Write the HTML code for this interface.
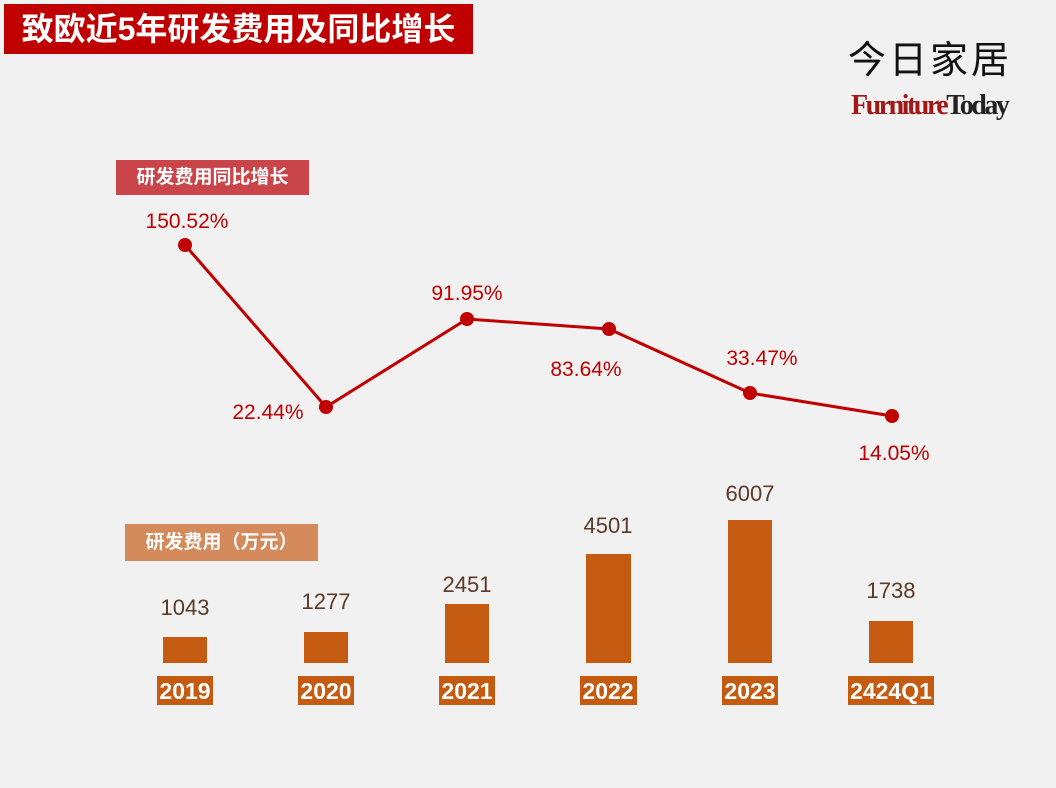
<!DOCTYPE html>
<html><head><meta charset="utf-8"><style>
body{margin:0;width:1056px;height:788px;background:#f1f1f1;overflow:hidden;font-family:"Liberation Sans","Noto Sans CJK SC",sans-serif;position:relative}
.a{position:absolute;white-space:nowrap}
</style></head><body>
<div class="a" style="left:4px;top:4px;width:469px;height:50px;background:#c00000;color:#fff;font-weight:bold;font-size:32px;line-height:50px;text-align:center">致欧近5年研发费用及同比增长</div>
<div class="a" style="left:848px;top:38px;font-size:38px;color:#111;letter-spacing:3px;line-height:46px">今日家居</div>
<div class="a" style="left:851px;top:88px;font-family:'Liberation Serif',serif;font-weight:bold;font-size:28px;letter-spacing:-2.5px;line-height:36px"><span style="color:#a01818">Furniture</span><span style="color:#222">Today</span></div>
<div class="a" style="left:116px;top:160px;width:193px;height:35px;background:#c9454a;color:#fff;font-weight:bold;font-size:19px;line-height:35px;text-align:center">研发费用同比增长</div>
<div class="a" style="left:125px;top:524px;width:193px;height:37px;background:#d48a5a;color:#fff;font-weight:bold;font-size:19px;line-height:37px;text-align:center">研发费用（万元）</div>
<svg class="a" style="left:0;top:0" width="1056" height="788">
<g fill="#c55a11">
<rect x="163" y="637" width="44" height="26"/><rect x="304" y="632" width="44" height="31"/><rect x="445" y="604" width="44" height="59"/><rect x="586" y="554" width="45" height="109"/><rect x="728" y="520" width="44" height="143"/><rect x="869" y="621" width="44" height="42"/>
<rect x="157" y="676" width="56" height="29"/><rect x="298" y="676" width="56" height="29"/><rect x="439" y="676" width="56" height="29"/><rect x="580" y="676" width="57" height="29"/><rect x="722" y="676" width="56" height="29"/><rect x="848" y="676" width="86" height="29"/>
</g>
<g fill="#fff" font-weight="bold" font-size="23" text-anchor="middle" font-family="Liberation Sans,sans-serif">
<text x="185" y="699">2019</text><text x="326" y="699">2020</text><text x="467" y="699">2021</text><text x="608" y="699">2022</text><text x="750" y="699">2023</text><text x="891" y="699">2424Q1</text>
</g>
<g fill="#5a3a28" font-size="22" text-anchor="middle" font-family="Liberation Sans,sans-serif">
<text x="185" y="615">1043</text><text x="326" y="609">1277</text><text x="467" y="592">2451</text><text x="608" y="533">4501</text><text x="750" y="501">6007</text><text x="891" y="598">1738</text>
</g>
<polyline points="185,245 326,407 467,319 609,329 750,393 892,416" fill="none" stroke="#c00000" stroke-width="3"/>
<g fill="#c00000"><circle cx="185" cy="245" r="7"/><circle cx="326" cy="407" r="7"/><circle cx="467" cy="319" r="7"/><circle cx="609" cy="329" r="7"/><circle cx="750" cy="393" r="7"/><circle cx="892" cy="416" r="7"/></g>
<g fill="#c00000" font-size="21" text-anchor="middle" font-family="Liberation Sans,sans-serif">
<text x="187" y="228">150.52%</text><text x="268" y="419">22.44%</text><text x="467" y="300">91.95%</text><text x="586" y="376">83.64%</text><text x="762" y="365">33.47%</text><text x="894" y="460">14.05%</text>
</g>
</svg>
</body></html>
